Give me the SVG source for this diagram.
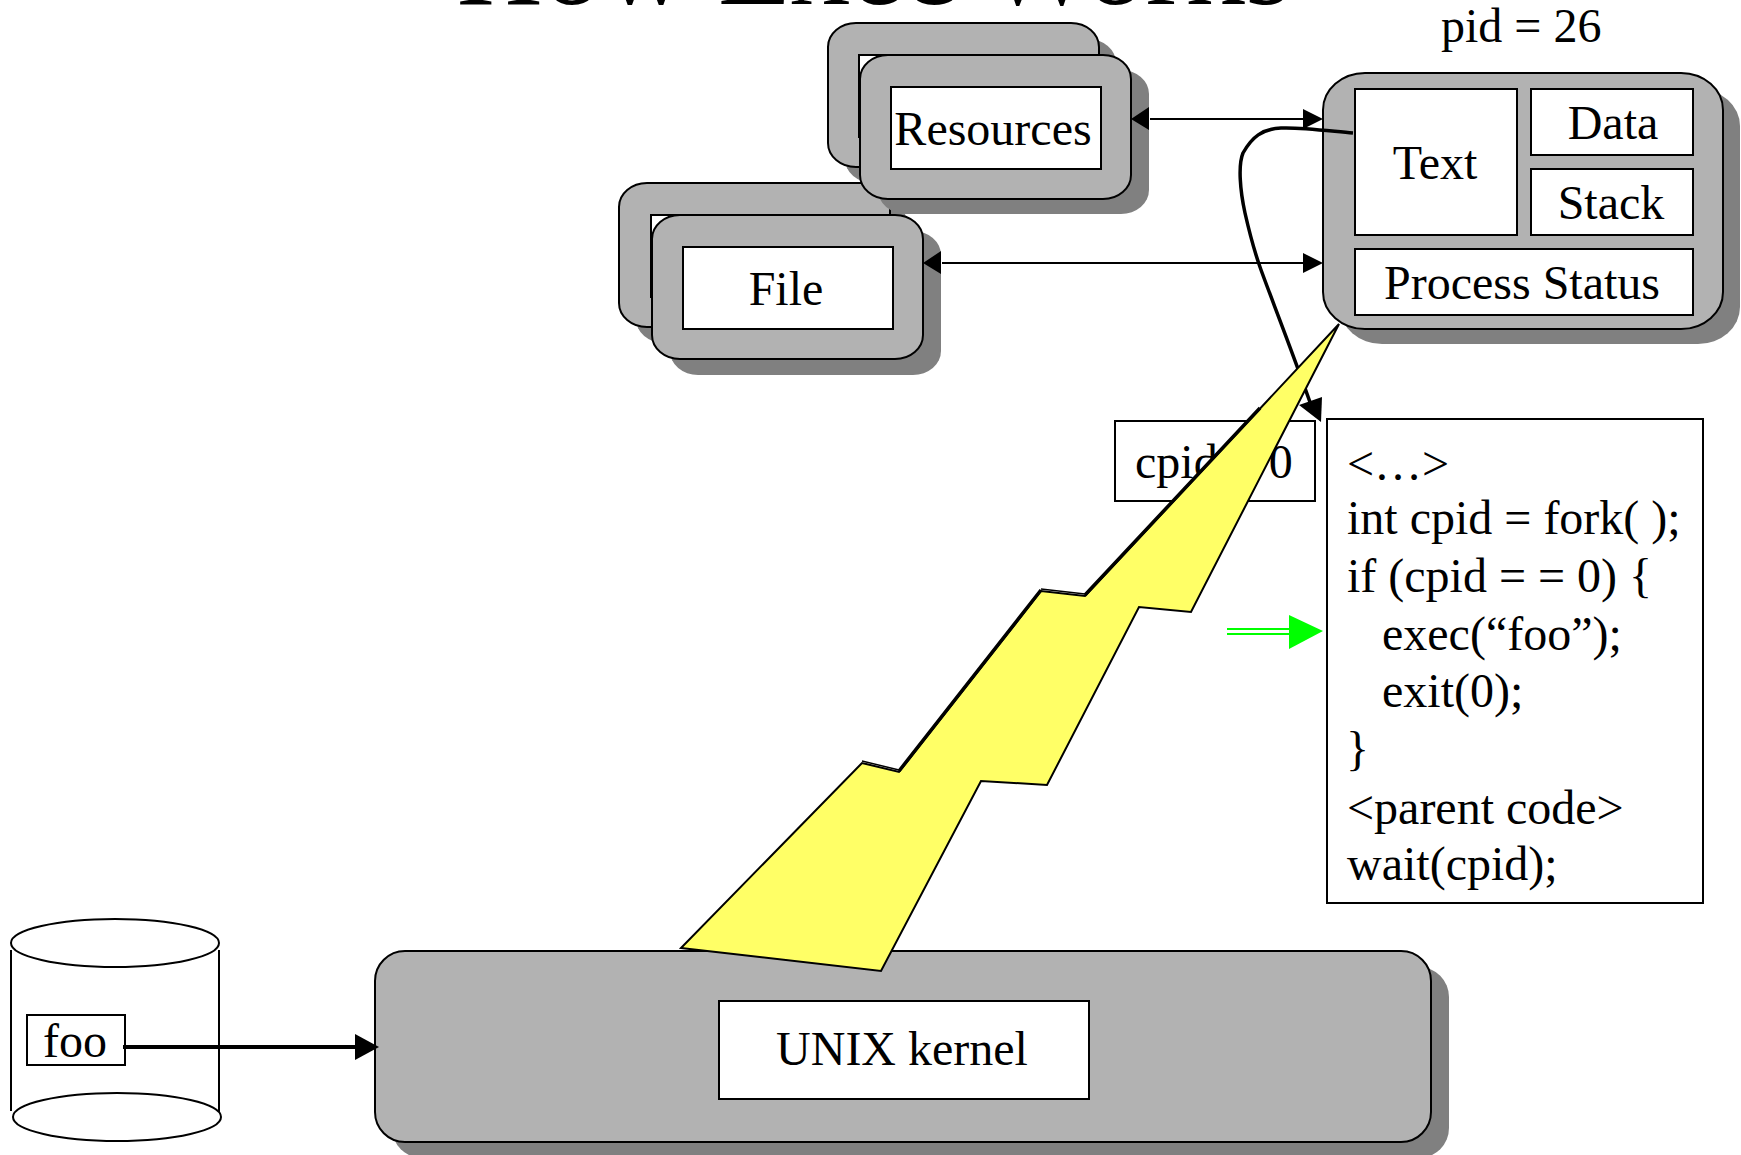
<svg xmlns="http://www.w3.org/2000/svg" width="1741" height="1155" viewBox="0 0 1741 1155">
<style>
text{font-family:"Liberation Serif","Times New Roman",serif;font-size:48px;fill:#000}
.m{text-anchor:middle}
.s{fill:#808080;stroke:none}
.g{fill:#b2b2b2;stroke:#000;stroke-width:2}
.w{fill:#fff;stroke:#000;stroke-width:2}
.l{fill:none;stroke:#000;stroke-width:2}
</style>
<defs>
<rect id="stack" x="0" y="0" width="271" height="144" rx="28" ry="24"/>
</defs>
<rect width="1741" height="1155" fill="#fff"/>
<text id="title" x="874" y="4" class="m" style="font-size:119px">How Exec Works</text>
<g id="file-back">
<use href="#stack" class="s" x="636" y="199"/>
<use href="#stack" class="g" x="619" y="183"/>
<rect class="w" x="651" y="215" width="211" height="82"/>
</g>
<g id="resources-back">
<use href="#stack" class="s" x="845" y="39"/>
<use href="#stack" class="g" x="828" y="23"/>
<rect class="w" x="859" y="55" width="211" height="82"/>
</g>
<g id="resources">
<use href="#stack" class="s" x="878" y="70"/>
<use href="#stack" class="g" x="860" y="55"/>
<rect class="w" x="891" y="87" width="210" height="82"/>
<text x="993" y="145" class="m">Resources</text>
</g>
<g id="file">
<use href="#stack" class="s" x="670" y="231"/>
<use href="#stack" class="g" x="652" y="215"/>
<rect class="w" x="683" y="247" width="210" height="82"/>
<text x="786" y="305" class="m">File</text>
</g>
<g id="process">
<rect class="s" x="1340" y="89" width="400" height="255" rx="42" ry="37"/>
<rect class="g" x="1323" y="73" width="400" height="256" rx="42" ry="37"/>
<rect class="w" x="1355" y="89" width="162" height="146"/>
<rect class="w" x="1531" y="89" width="162" height="66"/>
<rect class="w" x="1531" y="169" width="162" height="66"/>
<rect class="w" x="1355" y="249" width="338" height="66"/>
<text x="1435" y="179" class="m">Text</text>
<text x="1613" y="139" class="m">Data</text>
<text x="1611" y="219" class="m">Stack</text>
<text x="1522" y="299" class="m">Process Status</text>
</g>
<text id="pid" x="1441" y="42">pid = 26</text>
<g id="cpid">
<rect class="w" x="1115" y="421" width="200" height="80"/>
<text x="1135" y="478">cpid = 0</text>
</g>
<g id="code">
<rect class="w" x="1327" y="419" width="376" height="484"/>
<text x="1347" y="480">&lt;…&gt;</text>
<text x="1347" y="534">int cpid = fork( );</text>
<text x="1347" y="592">if (cpid = = 0) {</text>
<text x="1382" y="650">exec(“foo”);</text>
<text x="1382" y="707">exit(0);</text>
<text x="1346" y="765">}</text>
<text x="1347" y="824">&lt;parent code&gt;</text>
<text x="1347" y="880">wait(cpid);</text>
</g>
<g id="kernel">
<rect class="s" x="392" y="967" width="1057" height="191" rx="30" ry="30"/>
<rect class="g" x="375" y="951" width="1056" height="191" rx="30" ry="30"/>
<rect class="w" x="719" y="1001" width="370" height="98"/>
<text x="902" y="1065" class="m">UNIX kernel</text>
</g>
<g id="disk">
<ellipse class="w" cx="115" cy="943" rx="104" ry="24"/>
<path class="l" d="M11 950V1111M219 950V1114"/>
<ellipse class="w" cx="117" cy="1117" rx="104" ry="24"/>
<rect class="w" x="27" y="1015" width="98" height="50"/>
<text x="75" y="1057" class="m">foo</text>
</g>
<g id="connectors">
<path class="l" d="M1150 119H1305M942 263H1305"/>
<path d="M1131 119l18-12v23zM923 263l18-12v23zM1323 119l-20-10v20zM1323 263l-20-10v20z"/>
<path d="M123 1047H357" fill="none" stroke="#000" stroke-width="4"/>
<path d="M355 1034l24 13-24 13z"/>
<path d="M1353 133C1330 131 1300 127 1281 128C1262 129 1252 137 1243 153C1238 165 1240 190 1245 213C1250 235 1254 250 1260 267C1268 290 1290 345 1311 405" fill="none" stroke="#000" stroke-width="3.5"/>
<path d="M1321 422l-22-17 23-8z"/>
<path d="M1227 629H1290M1227 634H1290" fill="none" stroke="#0f0" stroke-width="2"/>
<path d="M1289 615v34l34-18z" fill="#0f0"/>
</g>
<g id="bolt">
<polygon points="681,948 881,971 981,781 1047,785 1139,607 1191,612 1339,324 1085,596 1041,591 899,772 862,763" fill="#ff6" stroke="#000" stroke-width="2"/>
<path d="M899 771L1041 590M1085 595L1260 408" fill="none" stroke="#000" stroke-width="3.5"/>
<path d="M862 761L899 770M1041 589L1085 594" fill="none" stroke="#000" stroke-width="1.5"/>
</g>
</svg>
